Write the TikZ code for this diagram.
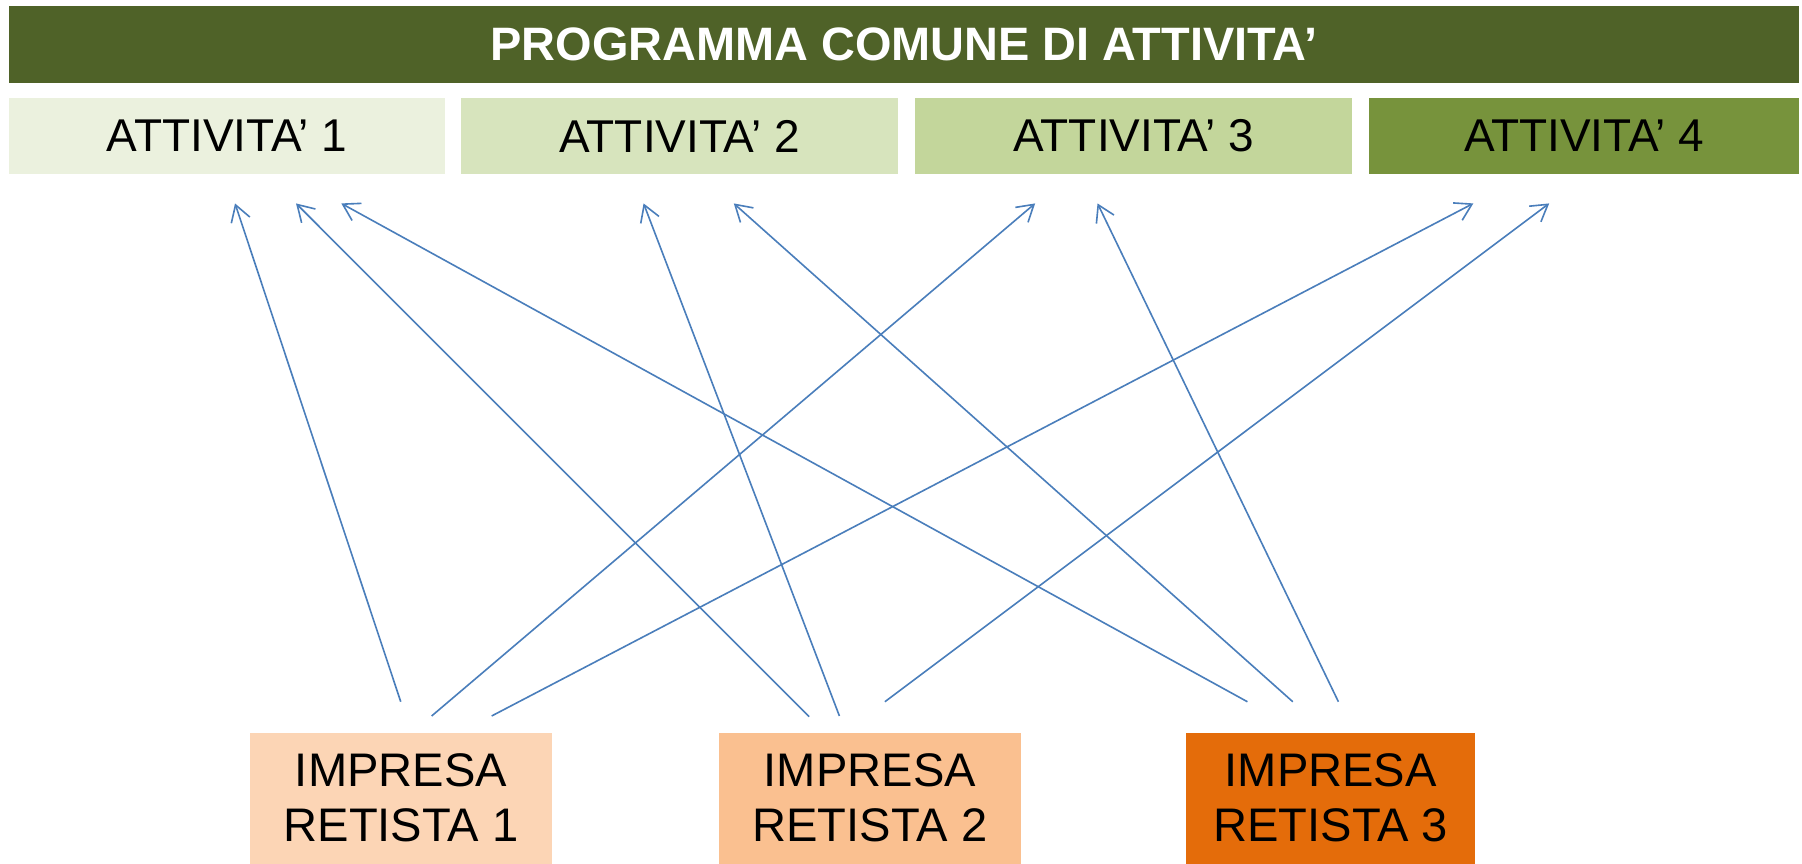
\documentclass[tikz,border=0pt]{standalone}
\usepackage{fontspec}
\setmainfont{Liberation Sans}
\usetikzlibrary{arrows.meta}
\definecolor{cTitle}{HTML}{4F6228}
\definecolor{cAct1}{HTML}{EBF1DE}
\definecolor{cAct2}{HTML}{D7E4BD}
\definecolor{cAct3}{HTML}{C3D69B}
\definecolor{cAct4}{HTML}{77933C}
\definecolor{cImp1}{HTML}{FCD5B5}
\definecolor{cImp2}{HTML}{FAC090}
\definecolor{cImp3}{HTML}{E46C0A}
\definecolor{cLine}{HTML}{4A7EBB}
\begin{document}
\begin{tikzpicture}[x=0.5pt,y=-0.5pt,
  bar/.style={fill=cTitle, text=white, font=\fontsize{20.4}{24}\selectfont\bfseries,
    minimum width=779pt, minimum height=33.5pt, anchor=north west, inner sep=0},
  act/.style={minimum width=190pt, minimum height=33pt, anchor=north west, inner sep=0,
    font=\fontsize{20}{24}\selectfont},
  imp/.style={minimum width=131.5pt, minimum height=57pt, anchor=north west, inner sep=0,
    align=center, font=\fontsize{20.5}{23.8}\selectfont},
  link/.style={draw=cLine, line width=0.7pt, -{Straight Barb[length=7pt,width=8.5pt]}}]
\useasboundingbox (0,0) rectangle (1568,751);
\node[bar] (title) at (7,5) {PROGRAMMA COMUNE DI ATTIVITA’};
\node[act, fill=cAct1] (act1) at (7,85) {ATTIVITA’ 1};
\node[act, fill=cAct2] (act2) at (401,85) {ATTIVITA’ 2};
\node[act, fill=cAct3] (act3) at (796,85) {ATTIVITA’ 3};
\node[act, fill=cAct4, minimum width=187pt] (act4) at (1191,85) {ATTIVITA’ 4};
\node[imp, fill=cImp1] (imp1) at (217,637) {IMPRESA\\RETISTA 1};
\node[imp, fill=cImp2] (imp2) at (625,637) {IMPRESA\\RETISTA 2};
\node[imp, fill=cImp3, minimum width=125.5pt] (imp3) at (1032,637) {IMPRESA\\RETISTA 3};
% start points
\coordinate (s1a) at (348.7,610.6);
\coordinate (s1b) at (375.6,623);
\coordinate (s1c) at (427.8,623);
\coordinate (s2a) at (704,623.6);
\coordinate (s2b) at (730.4,623);
\coordinate (s2c) at (770,610.6);
\coordinate (s3a) at (1085.4,610.6);
\coordinate (s3b) at (1124.9,610.6);
\coordinate (s3c) at (1164.6,610.6);
% end points
\coordinate (t1a) at (204.5,177);
\coordinate (t1b) at (257.6,177);
\coordinate (t1c) at (297,177);
\coordinate (t2a) at (560,177);
\coordinate (t2b) at (638.5,177);
\coordinate (t3a) at (900.7,177);
\coordinate (t3b) at (955,177);
\coordinate (t4a) at (1282,177);
\coordinate (t4b) at (1348,177);
\draw[link] (s1a) -- (t1a);
\draw[link] (s1b) -- (t3a);
\draw[link] (s1c) -- (t4a);
\draw[link] (s2a) -- (t1b);
\draw[link] (s2b) -- (t2a);
\draw[link] (s2c) -- (t4b);
\draw[link] (s3a) -- (t1c);
\draw[link] (s3b) -- (t2b);
\draw[link] (s3c) -- (t3b);
\end{tikzpicture}
\end{document}
